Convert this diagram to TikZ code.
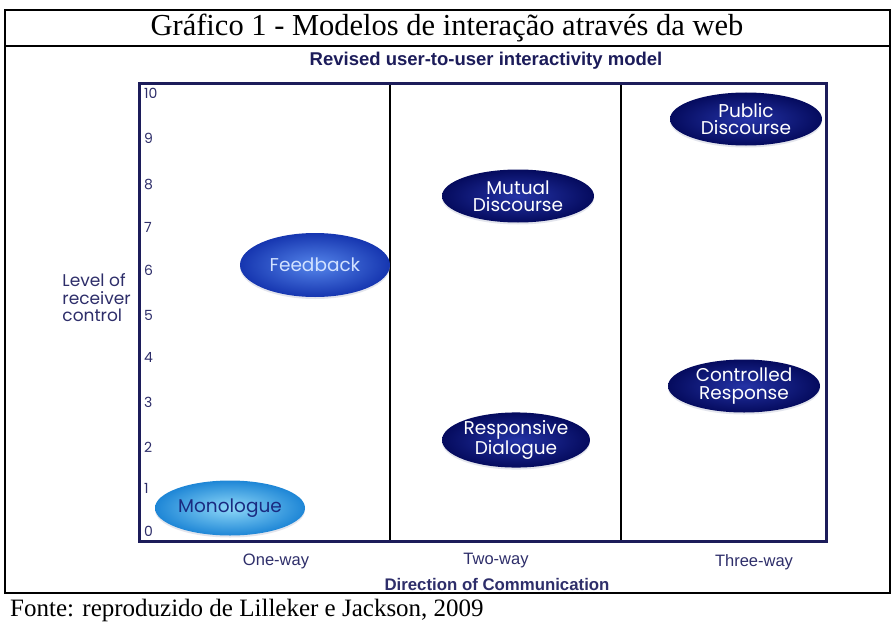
\documentclass[tikz,border=0pt]{standalone}
\usepackage{fontspec}
\setmainfont{Liberation Serif}
\newfontfamily\arialf{Liberation Sans}
\newfontfamily\gothf{Poppins}
\usetikzlibrary{shapes.geometric}
\definecolor{navy}{HTML}{1C1C5A}
\definecolor{labelc}{HTML}{2E2E6A}
\definecolor{darkin}{HTML}{2433A6}
\definecolor{darkout}{HTML}{050B5E}
\definecolor{fbin}{HTML}{5585EA}
\definecolor{fbout}{HTML}{1636B0}
\definecolor{monin}{HTML}{8ED8F8}
\definecolor{monout}{HTML}{1E86D6}
\definecolor{montext}{HTML}{1A2A80}
\definecolor{fbtext}{HTML}{D2E2FF}
\definecolor{halo}{HTML}{C8CCDC}
\tikzset{
  bubble/.style={ellipse, inner sep=0pt, align=center, font=\gothf\fontsize{18.5}{17.5}\selectfont,
     preaction={fill=halo, opacity=0.5, transform canvas={yshift=-2pt}}},
  darkbubble/.style={bubble, shading=radial, inner color=darkin, outer color=darkout, text=white, minimum width=152pt, minimum height=53pt},
  tick/.style={anchor=west, inner sep=0pt, text=labelc, font=\gothf\fontsize{14}{14}\selectfont},
  axislab/.style={inner sep=0pt, text=labelc, font=\arialf\fontsize{16.5}{16.5}\selectfont},
}
\begin{document}
\begin{tikzpicture}[x=1pt,y=-1pt]
\useasboundingbox (0,0) rectangle (896,623);
\fill[white] (0,0) rectangle (896,623);
% outer frame
\draw[line width=1.5pt] (5,10) rectangle (890,593);
\draw[line width=1.5pt] (5,46) -- (890,46);
\node[font=\fontsize{30.5}{30.5}\selectfont] (title) at (447,28) {Gráfico 1 - Modelos de interação através da web};
\node[font=\arialf\bfseries\fontsize{18.5}{18.5}\selectfont, text=navy] (sub) at (486,61) {Revised user-to-user interactivity model};
% chart frame
\draw[line width=1.3pt] (390,84) -- (390,541);
\draw[line width=1.3pt] (621,84) -- (621,541);
\draw[navy, line width=3pt] (139,84) rectangle (826,541);
% ticks
\foreach \v/\yy in {10/93,9/138,8/185,7/227,6/270,5/315,4/357,3/402,2/447,1/488,0/531}
  \node[tick] (t\v) at (144,\yy) {\v};
\node[anchor=east, align=left, inner sep=0pt, text=labelc, font=\gothf\fontsize{17}{17.5}\selectfont] (ylab) at (131,298) {Level of\\receiver\\control};
% bubbles
\node[bubble, shading=radial, inner color=monin, outer color=monout, text=montext, minimum width=150pt, minimum height=55pt] (mono) at (230,508) {Monologue};
\node[bubble, shading=radial, inner color=fbin, outer color=fbout, text=fbtext, minimum width=150pt, minimum height=64pt] (feed) at (315,265) {Feedback};
\node[darkbubble] (mutual) at (518,196) {Mutual\\Discourse};
\node[darkbubble] (public) at (746,119) {Public\\Discourse};
\node[darkbubble, minimum width=140pt] (resp) at (516,440) {Responsive\\Dialogue};
\node[darkbubble] (ctrl) at (744,386) {Controlled\\Response};
% x labels
\node[axislab] (one) at (276,561) {One-way};
\node[axislab] (two) at (496,561) {Two-way};
\node[axislab] (three) at (754,562) {Three-way};
\node[axislab, font=\arialf\bfseries\fontsize{16.8}{16.8}\selectfont] (dir) at (497,584) {Direction of Communication};
\node[anchor=west, inner sep=0pt, font=\fontsize{25}{25}\selectfont] (src) at (10,610) {Fonte: reproduzido de Lilleker e Jackson, 2009};
\end{tikzpicture}
\end{document}
